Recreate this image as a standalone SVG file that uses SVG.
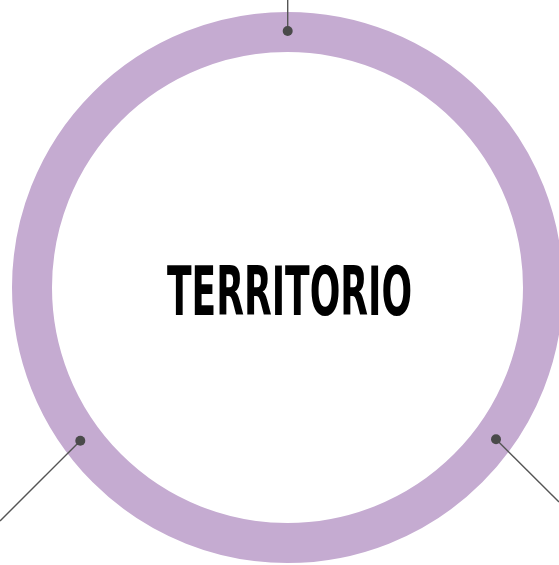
<svg xmlns="http://www.w3.org/2000/svg" width="559" height="565" viewBox="0 0 559 565">
<style>
.ring{fill:none;stroke:#c5abd1;stroke-width:40}
.lead{stroke:#555;stroke-width:1.4;fill:none}
.dot{fill:#4a4a4a}
.title{font-family:"Liberation Sans Narrow","DejaVu Sans Condensed","Liberation Sans",sans-serif;font-weight:bold;font-size:68px;fill:#000}
</style>
<rect width="559" height="565" fill="#fff"/>
<g id="territorio">
<circle class="ring" cx="287.5" cy="287.5" r="255.5"/>
<text class="title" x="289.5" y="315" text-anchor="middle" textLength="245" lengthAdjust="spacingAndGlyphs">TERRITORIO</text>
</g>
<g id="connectors">
<line class="lead" x1="287.7" y1="0" x2="287.7" y2="31"/>
<line class="lead" x1="80.3" y1="440.7" x2="0" y2="521"/>
<line class="lead" x1="496" y1="439.3" x2="559" y2="502"/>
<circle class="dot" cx="287.7" cy="31" r="5"/>
<circle class="dot" cx="80.3" cy="440.7" r="5"/>
<circle class="dot" cx="496" cy="439.3" r="5"/>
</g>
</svg>
